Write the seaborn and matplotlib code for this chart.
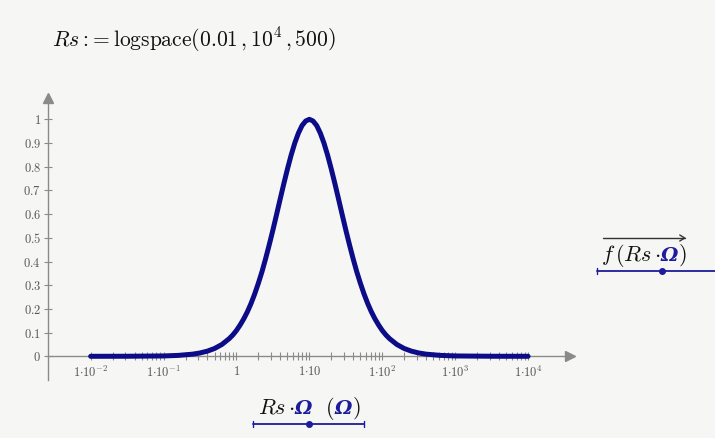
import numpy as np
import pandas as pd
import matplotlib
matplotlib.use("Agg")
import matplotlib.pyplot as plt
import seaborn as sns
from matplotlib.lines import Line2D
from matplotlib.ticker import FixedLocator, NullFormatter
from matplotlib.transforms import IdentityTransform

# ---- data (log10 of Rs, and f) ----
rs_exponent = [-2.0, -1.5, -1.0, -0.8, -0.6, -0.5, -0.4, -0.3, -0.2, -0.1, -0.05,
               0.0, 0.05, 0.1, 0.15, 0.2, 0.25, 0.3, 0.35, 0.4, 0.45,
               0.5, 0.55, 0.6, 0.65, 0.7, 0.75, 0.8, 0.85, 0.9, 0.95,
               1.0, 1.05, 1.1, 1.15, 1.2, 1.25, 1.3, 1.35, 1.4, 1.45,
               1.5, 1.55, 1.6, 1.65, 1.7, 1.75, 1.8, 1.85, 1.9, 1.95,
               2.0, 2.05, 2.1, 2.2, 2.3, 2.4, 2.5, 2.6, 2.8, 3.0, 3.5, 4.0]
f_values = [0.0, 0.0002, 0.0015, 0.0038, 0.0091, 0.0141, 0.0217, 0.033, 0.0499, 0.0744, 0.090,
            0.109, 0.132, 0.158, 0.188, 0.223, 0.263, 0.308, 0.357, 0.412, 0.471,
            0.533, 0.598, 0.664, 0.729, 0.791, 0.849, 0.900, 0.942, 0.974, 0.993,
            1.0, 0.993, 0.974, 0.942, 0.900, 0.849, 0.791, 0.729, 0.664, 0.598,
            0.533, 0.471, 0.412, 0.357, 0.308, 0.263, 0.223, 0.188, 0.158, 0.132,
            0.109, 0.090, 0.0744, 0.0499, 0.033, 0.0217, 0.0141, 0.0091, 0.0038, 0.0015, 0.0002, 0.0]
x_tick_exponents = [-2, -1, 0, 1, 2, 3, 4]
x_tick_labels = [r"$1{\cdot}10^{-2}$", r"$1{\cdot}10^{-1}$", r"$1$", r"$1{\cdot}10$",
                 r"$1{\cdot}10^{2}$", r"$1{\cdot}10^{3}$", r"$1{\cdot}10^{4}$"]
y_ticks = [0, 0.1, 0.2, 0.3, 0.4, 0.5, 0.6, 0.7, 0.8, 0.9, 1.0]
y_tick_labels = ["$0$", "$0.1$", "$0.2$", "$0.3$", "$0.4$", "$0.5$", "$0.6$", "$0.7$",
                 "$0.8$", "$0.9$", "$1$"]

BG = "#f6f7f5"
NAVY = "#0c0c88"
BLUE = "#1c1c9c"
GRAY = "#8a8a8a"
W, H = 715, 438

sns.set_theme(style="white", rc={"axes.facecolor": BG, "figure.facecolor": BG})
plt.rcParams["mathtext.fontset"] = "cm"
plt.rcParams["font.family"] = ["DejaVu Serif"]

fig = plt.figure(figsize=(W / 100, H / 100), dpi=100)
ax = fig.add_axes([48 / W, 58 / H, 522 / W, 282 / H])
ax.set_facecolor(BG)

df = pd.DataFrame({"Rs": 10.0 ** np.array(rs_exponent), "f": f_values})
sns.lineplot(data=df, x="Rs", y="f", ax=ax, color=NAVY, linewidth=3.6,
             solid_capstyle="round", solid_joinstyle="round")

ax.set_xscale("log")
ax.set_xlim(10 ** -2.585, 10 ** 4.575)
ax.set_ylim(-0.1, 1.09)
ax.set_xlabel("")
ax.set_ylabel("")

for s in ["top", "right"]:
    ax.spines[s].set_visible(False)
ax.spines["bottom"].set_position(("data", 0))
for s in ["bottom", "left"]:
    ax.spines[s].set_color(GRAY)
    ax.spines[s].set_linewidth(1.0)
    ax.spines[s].set_zorder(1)

ax.set_xticks(10.0 ** np.array(x_tick_exponents), labels=x_tick_labels)
minor = [m * 10.0 ** k for k in range(-2, 4) for m in range(2, 10)]
ax.xaxis.set_minor_locator(FixedLocator(minor))
ax.xaxis.set_minor_formatter(NullFormatter())
ax.set_yticks(y_ticks, labels=y_tick_labels)

ax.tick_params(axis="x", which="both", direction="inout", length=6, width=0.8,
               color=GRAY, labelsize=9, labelcolor="#555555", pad=3, bottom=True)
ax.tick_params(axis="y", which="both", direction="inout", length=6, width=0.8,
               color=GRAY, labelsize=9, labelcolor="#555555", pad=2, left=True)

# axis arrows
ax.plot([1], [0], marker=">", color=GRAY, markersize=7, clip_on=False,
        transform=ax.get_yaxis_transform(), zorder=3)
ax.plot([0], [1], marker="^", color=GRAY, markersize=7, clip_on=False,
        transform=ax.transAxes, zorder=3)

# title expression
fig.text(52 / W, 1 - 40 / H,
         r"$Rs{:}\!{=}\mathrm{logspace}\left(0.01\,,10^{4}\,,500\right)$",
         fontsize=15.5, va="center", ha="left", color="#111111")

renderer = fig.canvas.get_renderer()


def rich(parts, x_center, y_base):
    """draw consecutive text pieces centred on x_center (pixels, top-left origin)."""
    texts = []
    for s, kw in parts:
        t = fig.text(0, 0, s, transform=IdentityTransform(), va="baseline",
                     ha="left", **kw)
        texts.append(t)
    widths = [t.get_window_extent(renderer).width for t in texts]
    x = x_center - sum(widths) / 2
    for t, w in zip(texts, widths):
        t.set_position((x, H - y_base))
        x += w
    return x_center - sum(widths) / 2, x


om = dict(fontsize=14, color=BLUE, fontweight="bold", fontstyle="italic",
          family="DejaVu Serif")
blk = dict(fontsize=16, color="#111111")

# bottom axis label
rich([(r"$Rs\,{\cdot}\,$", blk), ("Ω", om), (r"$\ \ ($", blk), ("Ω", om), (r"$)$", blk)],
     309, 414)
# right legend label
x0, x1 = rich([(r"$f\,(Rs\,{\cdot}\,$", blk), ("Ω", om), (r"$)$", blk)], 644, 261)


def px_line(xs, ys, **kw):
    fig.add_artist(Line2D([x / W for x in xs], [1 - y / H for y in ys],
                          transform=fig.transFigure, **kw))


# vector arrow above legend label
px_line([x0 + 2, x1 - 2], [238, 238], color="#333333", lw=1.0)
px_line([x1 - 7, x1 - 2, x1 - 7], [235, 238, 241], color="#333333", lw=1.0)

# blue placeholder lines
px_line([253, 364], [424, 424], color=BLUE, lw=1.3)
px_line([253, 253], [421, 427], color=BLUE, lw=1.0)
px_line([364, 364], [421, 427], color=BLUE, lw=1.0)
px_line([309], [424], color=BLUE, marker="o", markersize=4, lw=0)

px_line([597, 715], [271, 271], color=BLUE, lw=1.3)
px_line([597, 597], [268, 274], color=BLUE, lw=1.0)
px_line([662], [271], color=BLUE, marker="o", markersize=4, lw=0)

fig.savefig("out.png", dpi=100, facecolor=BG)
